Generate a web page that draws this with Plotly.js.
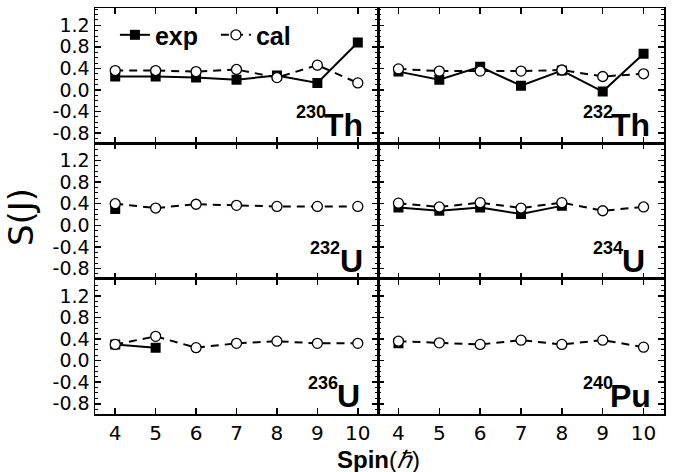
<!DOCTYPE html>
<html>
<head>
<meta charset="utf-8">
<script src="https://cdn.plot.ly/plotly-3.0.1.min.js"></script>
<style>html,body{margin:0;padding:0;background:#fff;}</style>
</head>
<body>
<div id="chart" style="width:689px;height:472px;"></div>
<script>
// ---- data ----
const spin = [4, 5, 6, 7, 8, 9, 10];
const spinTickText = ["4", "5", "6", "7", "8", "9", "10"];
const yTickVals = [-0.8, -0.4, 0.0, 0.4, 0.8, 1.2];
const yTickText = ["-0.8", "-0.4", "0.0", "0.4", "0.8", "1.2"];

const nucleusMass = ["230", "232", "232", "234", "236", "240"];
const nucleusSymbol = ["Th", "Th", "U", "U", "U", "Pu"];

const th230Exp = [0.25, 0.25, 0.23, 0.19, 0.27, 0.13, 0.88];
const th230Cal = [0.36, 0.36, 0.34, 0.38, 0.23, 0.46, 0.13];
const th232Exp = [0.34, 0.19, 0.43, 0.08, 0.36, -0.03, 0.67];
const th232Cal = [0.39, 0.35, 0.35, 0.35, 0.37, 0.25, 0.30];
const u232Exp = [0.30];
const u232Cal = [0.40, 0.32, 0.39, 0.37, 0.35, 0.35, 0.35];
const u234Exp = [0.33, 0.27, 0.33, 0.21, 0.36];
const u234Cal = [0.41, 0.34, 0.42, 0.32, 0.42, 0.27, 0.34];
const u236Exp = [0.30, 0.24];
const u236Cal = [0.30, 0.45, 0.24, 0.32, 0.36, 0.32, 0.32];
const pu240Exp = [0.32];
const pu240Cal = [0.36, 0.33, 0.30, 0.38, 0.30, 0.38, 0.25];

const expSeries = [th230Exp, th232Exp, u232Exp, u234Exp, u236Exp, pu240Exp];
const calSeries = [th230Cal, th232Cal, u232Cal, u234Cal, u236Cal, pu240Cal];

// ---- build ----
const FONT = "Liberation Sans, Arial, Helvetica, sans-serif";
const WIDE = "DejaVu Sans, Liberation Sans, sans-serif";
const traces = [];
const layout = {
  width: 689, height: 472,
  margin: {l: 95, r: 25, t: 8, b: 58},
  paper_bgcolor: "#fff", plot_bgcolor: "#fff",
  showlegend: true,
  legend: {
    orientation: "h", x: 0.035, y: 0.99, xanchor: "left", yanchor: "top",
    font: {family: FONT, size: 25, color: "#000", weight: "bold"},
    bgcolor: "rgba(0,0,0,0)", itemwidth: 30, traceorder: "normal",
    entrywidth: 56, entrywidthmode: "pixels"
  },
  annotations: []
};

const colSplit = 0.4974;
const xDomains = [[0, colSplit], [colSplit, 1]];
const yDomains = [[2/3, 1], [1/3, 2/3], [0, 1/3]];
const yMin = -0.99, yMax = 1.52;

// label positions (data x of right edges)
const symRight = [10.18, 10.21, 10.18, 10.08, 10.11, 10.23];
const supRight = [9.27, 9.30, 9.61, 9.54, 9.56, 9.30];

for (let i = 0; i < 6; i++) {
  const r = Math.floor(i / 2), c = i % 2;
  const xn = i === 0 ? "x" : "x" + (i + 1);
  const yn = i === 0 ? "y" : "y" + (i + 1);
  const xk = i === 0 ? "xaxis" : "xaxis" + (i + 1);
  const yk = i === 0 ? "yaxis" : "yaxis" + (i + 1);

  const expY = expSeries[i];
  traces.push({
    x: spin.slice(0, expY.length), y: expY, xaxis: xn, yaxis: yn,
    type: "scatter", mode: "lines+markers", name: "exp",
    showlegend: i === 0,
    line: {color: "#000", width: 2},
    marker: {symbol: "square", size: 10, color: "#000", line: {color: "#000", width: 0}}
  });
  const calY = calSeries[i];
  traces.push({
    x: spin.slice(0, calY.length), y: calY, xaxis: xn, yaxis: yn,
    type: "scatter", mode: "lines+markers", name: "cal",
    showlegend: i === 0,
    line: {color: "#000", width: 2, dash: "8px,6px"},
    marker: {symbol: "circle", size: 10, color: "#fff", line: {color: "#000", width: 1.3}}
  });

  layout[xk] = {
    domain: xDomains[c], anchor: yn, range: [3.5, 10.5],
    tickmode: "array", tickvals: spin, ticktext: spinTickText,
    showticklabels: r === 2,
    ticks: "inside", ticklen: 6, tickwidth: 1.5, tickcolor: "#000",
    showline: true, linewidth: 1.5, linecolor: "#000", mirror: "allticks",
    showgrid: false, zeroline: false,
    tickfont: {family: WIDE, size: 20, color: "#000"}
  };
  layout[yk] = {
    domain: yDomains[r], anchor: xn, range: [yMin, yMax],
    tickmode: "array", tickvals: yTickVals, ticktext: yTickText,
    showticklabels: c === 0,
    ticks: "inside", ticklen: 6, tickwidth: 1.5, tickcolor: "#000",
    minor: {ticks: "inside", ticklen: 3, tickwidth: 1, tickcolor: "#000", tickmode: "linear", tick0: 0, dtick: 0.1},
    showline: true, linewidth: 1.5, linecolor: "#000", mirror: "allticks",
    showgrid: false, zeroline: false,
    tickfont: {family: WIDE, size: 19, color: "#000"}
  };

  layout.annotations.push({
    xref: xn, yref: yn, x: symRight[i], y: yMin, xanchor: "right", yanchor: "bottom",
    yshift: -2, showarrow: false, text: "<b>" + nucleusSymbol[i] + "</b>",
    font: {family: FONT, size: 32, color: "#000"}
  });
  layout.annotations.push({
    xref: xn, yref: yn, x: supRight[i], y: yMin, xanchor: "right", yanchor: "bottom",
    yshift: 19, showarrow: false, text: "<b>" + nucleusMass[i] + "</b>",
    font: {family: FONT, size: 18, color: "#000"}
  });
}

layout.annotations.push({
  xref: "paper", yref: "paper", x: -0.13, y: 0.485, xanchor: "center", yanchor: "middle",
  textangle: -90, showarrow: false, text: "S(J)",
  font: {family: WIDE, size: 34, color: "#000"}
});
layout.annotations.push({
  xref: "paper", yref: "paper", x: 0.499, y: -0.113, xanchor: "center", yanchor: "middle",
  showarrow: false, text: "<b>Spin</b>(<i>ℏ</i>)",
  font: {family: FONT, size: 24, color: "#000"}
});

Plotly.newPlot("chart", traces, layout, {displayModeBar: false, staticPlot: true});
</script>
</body>
</html>
